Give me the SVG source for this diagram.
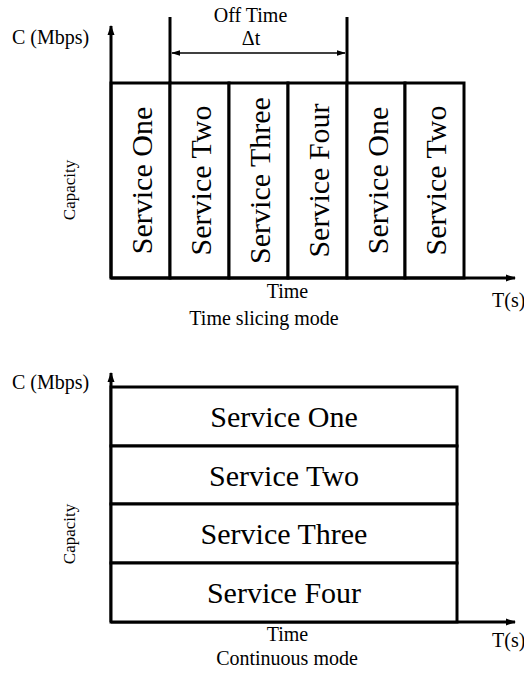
<svg xmlns="http://www.w3.org/2000/svg" width="524" height="674" viewBox="0 0 524 674" font-family="'Liberation Serif', 'Times New Roman', 'DejaVu Serif', serif">
<style>
text{font-family:'Liberation Serif','Times New Roman','DejaVu Serif',serif;fill:#000}
.lbl{font-size:20px}
.cap{font-size:17px}
.svc{font-size:30px;text-anchor:middle}
.box{fill:#fff;stroke:#000;stroke-width:3}
.ax{stroke:#000;stroke-width:3;fill:none}
.thin{stroke:#000;stroke-width:1.5;fill:none}
</style>
<defs>
<marker id="ah" viewBox="0 0 10 10" refX="9" refY="5" markerWidth="10" markerHeight="10" markerUnits="userSpaceOnUse" orient="auto">
<path d="M0,1.5 L10,5 L0,8.5 Z" fill="#000"/>
</marker>
<marker id="sh" viewBox="0 0 10 10" refX="9" refY="5" markerWidth="9" markerHeight="9" markerUnits="userSpaceOnUse" orient="auto-start-reverse">
<path d="M0,2 L10,5 L0,8 Z" fill="#000"/>
</marker>
</defs>

<!-- top chart: time slicing mode -->
<g id="top-columns">
<g id="ts-s1"><rect class="box" x="111" y="83" width="59" height="195"/><text class="svc" transform="translate(152,180.5) rotate(-90)">Service One</text></g>
<g id="ts-s2"><rect class="box" x="170" y="83" width="59" height="195"/><text class="svc" transform="translate(211,180.5) rotate(-90)">Service Two</text></g>
<g id="ts-s3"><rect class="box" x="229" y="83" width="59" height="195"/><text class="svc" transform="translate(270,180.5) rotate(-90)">Service Three</text></g>
<g id="ts-s4"><rect class="box" x="288" y="83" width="59" height="195"/><text class="svc" transform="translate(329,180.5) rotate(-90)">Service Four</text></g>
<g id="ts-s5"><rect class="box" x="347" y="83" width="58" height="195"/><text class="svc" transform="translate(387.5,180.5) rotate(-90)">Service One</text></g>
<g id="ts-s6"><rect class="box" x="405" y="83" width="59" height="195"/><text class="svc" transform="translate(446,180.5) rotate(-90)">Service Two</text></g>
</g>

<g id="connectors">
<line class="ax" x1="111" y1="278" x2="111" y2="26" marker-end="url(#ah)"/>
<line class="ax" x1="111" y1="278" x2="515" y2="278" marker-end="url(#ah)"/>
<line class="ax" x1="170" y1="83" x2="170" y2="17"/>
<line class="ax" x1="347" y1="83" x2="347" y2="17"/>
<line class="thin" x1="172" y1="53" x2="345" y2="53" marker-start="url(#sh)" marker-end="url(#sh)"/>
<line class="ax" x1="111" y1="622" x2="111" y2="373" marker-end="url(#ah)"/>
<line class="ax" x1="111" y1="622" x2="515" y2="622" marker-end="url(#ah)"/>
</g>

<g id="top-labels">
<text class="lbl" x="12" y="44">C (Mbps)</text>
<text class="lbl" x="250.5" y="22" text-anchor="middle">Off Time</text>
<text class="lbl" x="251" y="45" text-anchor="middle">Δt</text>
<text class="cap" transform="translate(75,190) rotate(-90)" text-anchor="middle">Capacity</text>
<text class="lbl" x="287.5" y="298" text-anchor="middle">Time</text>
<text class="lbl" x="492" y="307">T(s)</text>
<text class="lbl" x="264" y="325" text-anchor="middle">Time slicing mode</text>
</g>

<!-- bottom chart: continuous mode -->
<g id="cm-s1"><rect class="box" x="111" y="387" width="346" height="59"/><text class="svc" x="284" y="427">Service One</text></g>
<g id="cm-s2"><rect class="box" x="111" y="446" width="346" height="58"/><text class="svc" x="284" y="485.5">Service Two</text></g>
<g id="cm-s3"><rect class="box" x="111" y="504" width="346" height="59"/><text class="svc" x="284" y="544">Service Three</text></g>
<g id="cm-s4"><rect class="box" x="111" y="563" width="346" height="59"/><text class="svc" x="284" y="603">Service Four</text></g>

<g id="bottom-labels">
<text class="lbl" x="12" y="389">C (Mbps)</text>
<text class="cap" transform="translate(75,534) rotate(-90)" text-anchor="middle">Capacity</text>
<text class="lbl" x="287.5" y="641" text-anchor="middle">Time</text>
<text class="lbl" x="492" y="647">T(s)</text>
<text class="lbl" x="287" y="665" text-anchor="middle">Continuous mode</text>
</g>
</svg>
